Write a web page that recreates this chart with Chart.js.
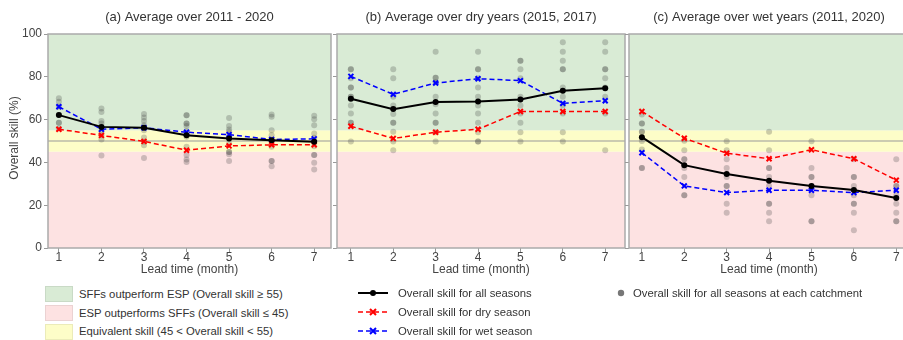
<!DOCTYPE html>
<html>
<head>
<meta charset="utf-8">
<script src="https://cdn.jsdelivr.net/npm/chart.js@4.4.1/dist/chart.umd.min.js"></script>
<style>
html, body { margin: 0; padding: 0; background: #fff; }
body { width: 903px; height: 340px; overflow: hidden; position: relative; font-family: "Liberation Sans", Arial, sans-serif; }
canvas { position: absolute; top: 0; }
#chartA { left: 0; }
#chartB { left: 329px; }
#chartC { left: 621px; }
.leg { position: absolute; font-size: 11.3px; color: #333; white-space: nowrap; line-height: 14px; }
.sw { position: absolute; left: 45px; width: 28px; height: 16px; box-sizing: border-box; border: 1px solid rgba(0,0,0,0.07); }
svg { position: absolute; }
</style>
</head>
<body>
<canvas id="chartA" width="337" height="280"></canvas>
<canvas id="chartB" width="302" height="280"></canvas>
<canvas id="chartC" width="294" height="280"></canvas>

<div class="sw" style="top:286px;background:#d9ebd5"></div>
<div class="sw" style="top:305px;background:#fde2e2"></div>
<div class="sw" style="top:324px;background:#fdfdc8"></div>
<div class="leg" style="left:79px;top:287px">SFFs outperform ESP (Overall skill ≥ 55)</div>
<div class="leg" style="left:79px;top:306px">ESP outperforms SFFs (Overall skill ≤ 45)</div>
<div class="leg" style="left:79px;top:324px">Equivalent skill (45 &lt; Overall skill &lt; 55)</div>

<svg style="left:358px;top:288px" width="30" height="10"><line x1="0" y1="5" x2="30" y2="5" stroke="#000" stroke-width="2"/><circle cx="15" cy="5" r="3" fill="#000"/></svg>
<svg style="left:358px;top:307px" width="30" height="10"><line x1="0" y1="5" x2="30" y2="5" stroke="#f00" stroke-width="1.5" stroke-dasharray="5,3"/><path d="M12 2 L18 8 M18 2 L12 8" stroke="#f00" stroke-width="2"/></svg>
<svg style="left:358px;top:326px" width="30" height="10"><line x1="0" y1="5" x2="30" y2="5" stroke="#00f" stroke-width="1.5" stroke-dasharray="5,3"/><path d="M12 2 L18 8 M18 2 L12 8" stroke="#00f" stroke-width="2"/></svg>
<div class="leg" style="left:398px;top:286px">Overall skill for all seasons</div>
<div class="leg" style="left:398px;top:305px">Overall skill for dry season</div>
<div class="leg" style="left:398px;top:324px">Overall skill for wet season</div>

<svg style="left:616px;top:288px" width="10" height="10"><circle cx="5" cy="5" r="3.2" fill="#777"/></svg>
<div class="leg" style="left:633px;top:286px">Overall skill for all seasons at each catchment</div>

<script>
// lead times and tick labels
const leadTimes = [1, 2, 3, 4, 5, 6, 7];
const yTicks = [0, 20, 40, 60, 80, 100];
const bandEdges = [0, 45, 55, 100];

// (a) 2011 - 2020
const allA = [62.1, 56.6, 56.2, 52.7, 51.2, 50.4, 49.6];
const dryA = [55.5, 52.6, 49.8, 45.7, 47.7, 48.2, 48.2];
const wetA = [66.0, 55.5, 56.2, 54.1, 53.0, 50.7, 51.0];
const catchA = [
    [70, 68.3, 66, 62.1, 58.5, 58.5, 55.8],
    [65.2, 63.6, 59.4, 58.2, 56.5, 54.3, 52.7, 50.7, 43.2],
    [62.6, 61, 59.4, 57.4, 55, 51.6, 49.6, 48, 42.1],
    [62, 62, 58.2, 58.2, 57, 54.6, 52, 47.3, 43.4, 41.3, 40.2],
    [60.8, 57, 55.4, 54.3, 52.7, 48.8, 44.9, 44.9, 43.8, 40.6],
    [62.4, 61.3, 55, 52.7, 50.4, 47.3, 40.7, 40.7, 38.2],
    [61.8, 60.2, 57.4, 53.5, 51.5, 47.6, 43.4, 43.4, 39.8, 36.7]
];

// (b) dry years
const allB = [69.7, 64.9, 68.2, 68.5, 69.4, 73.5, 74.7];
const dryB = [56.9, 51.2, 54.1, 55.5, 63.8, 63.8, 63.8];
const wetB = [80.2, 71.8, 77.1, 79.1, 78.2, 67.6, 68.8];
const catchB = [
    [83.5, 83.5, 79.3, 75, 75, 70.7, 70.7, 66.6, 62.9, 58.5, 58.5, 49.8],
    [83.5, 79.3, 70.7, 66.6, 62.6, 58.5, 58.5, 54.3, 49.8, 45.7],
    [91.7, 79.6, 79.6, 77.5, 70.7, 67.2, 62.9, 58.5, 58.5, 54.1, 49.8],
    [91.7, 83.5, 83.5, 79.3, 75, 70.7, 66.6, 62.9, 58.5, 54.1, 49.8, 49.8],
    [87.5, 87.5, 83.5, 79.3, 70.7, 66.6, 62.9, 58.5, 54.1, 49.8],
    [96.1, 91.7, 87.5, 83.5, 83.5, 75, 70.7, 66.6, 62.9, 54.1, 49.8],
    [96.1, 91.7, 83.5, 83.5, 79.3, 75, 70.7, 62.9, 45.7]
];

// (c) wet years
const allC = [51.8, 38.7, 34.6, 31.4, 29.0, 27.1, 23.4];
const dryC = [63.8, 51.3, 44.3, 41.7, 45.9, 41.7, 31.7];
const wetC = [44.5, 29.0, 25.9, 27.0, 27.0, 25.9, 27.0];
const catchC = [
    [62.4, 58.2, 58.2, 54.3, 54.3, 50, 46, 37.4, 37.4],
    [50.1, 45.7, 41.5, 41.5, 37.4, 33.2, 24.6, 24.6],
    [49.9, 45.7, 41.5, 37.4, 33.2, 29, 29, 20.7, 16.5],
    [54.3, 45.7, 37.4, 37.4, 33.2, 29, 20.7, 20.7, 16.5, 12.5],
    [49.9, 37.4, 33.2, 33.2, 29, 24.6, 12.5, 12.5],
    [41.5, 33.2, 33.2, 29, 24.6, 20.7, 20.7, 16.5, 8.3],
    [41.5, 29, 29, 24.6, 20.7, 16.5, 12.5, 12.5]
];

const bandColors = ['#fde2e2', '#fdfdc8', '#d9ebd5'];
const FONT = '"Liberation Sans", Arial, sans-serif';
Chart.defaults.font.family = FONT;
Chart.defaults.color = '#444';

const decoPlugin = {
    id: 'deco',
    beforeDraw(chart) {
        const { ctx, chartArea: a, scales: { y } } = chart;
        ctx.save();
        for (let i = 0; i < bandColors.length; i++) {
            const top = y.getPixelForValue(bandEdges[i + 1]);
            const bot = y.getPixelForValue(bandEdges[i]);
            ctx.fillStyle = bandColors[i];
            ctx.fillRect(a.left, top, a.right - a.left, bot - top);
        }
        const y50 = y.getPixelForValue(50);
        ctx.strokeStyle = '#999';
        ctx.lineWidth = 1;
        ctx.beginPath();
        ctx.moveTo(a.left, y50);
        ctx.lineTo(a.right, y50);
        ctx.stroke();
        ctx.restore();
    },
    afterDraw(chart) {
        const { ctx, chartArea: a } = chart;
        const o = chart.options.plugins.deco;
        ctx.save();
        ctx.strokeStyle = '#aaa';
        ctx.lineWidth = 1.5;
        ctx.strokeRect(a.left, a.top, a.right - a.left, a.bottom - a.top);
        ctx.fillStyle = '#333';
        ctx.textAlign = 'center';
        ctx.textBaseline = 'middle';
        ctx.font = '13px ' + FONT;
        ctx.fillText(o.title, (a.left + a.right) / 2, 17);
        ctx.font = '12px ' + FONT;
        ctx.fillStyle = '#444';
        ctx.fillText('Lead time (month)', (o.xTitleAt || (a.left + a.right) / 2), 269.5);
        if (o.yTitle) {
            ctx.translate(15, 138);
            ctx.rotate(-Math.PI / 2);
            ctx.fillText(o.yTitle, 0, 0);
        }
        ctx.restore();
    }
};

function makePanel(id, title, all, dry, wet, catchments, xMin, xMax, yLabels, xTitleAt) {
    const pts = arr => leadTimes.map((x, i) => ({ x: x, y: arr[i] }));
    const dots = catchments.flatMap((vals, i) => vals.map(v => ({ x: leadTimes[i], y: v })));
    const seasonStyle = color => ({
        borderColor: color, backgroundColor: color, borderWidth: 1.5, borderDash: [5, 3],
        pointStyle: 'crossRot', pointRadius: 3.5, pointBorderWidth: 2, pointBorderColor: color
    });
    new Chart(document.getElementById(id), {
        type: 'line',
        data: {
            datasets: [
                { data: pts(all), borderColor: '#000', backgroundColor: '#000', borderWidth: 2,
                  pointStyle: 'circle', pointRadius: 3, pointBorderWidth: 0 },
                Object.assign({ data: pts(dry) }, seasonStyle('#ff0000')),
                Object.assign({ data: pts(wet) }, seasonStyle('#0000ff')),
                { type: 'scatter', data: dots, showLine: false, pointRadius: 3, borderWidth: 0,
                  backgroundColor: 'rgba(60,60,60,0.25)' }
            ]
        },
        options: {
            responsive: false,
            animation: false,
            layout: { padding: { top: 34, right: 3, left: 0, bottom: 0 } },
            plugins: {
                legend: { display: false },
                tooltip: { enabled: false },
                deco: { title: title, yTitle: yLabels ? 'Overall skill (%)' : null, xTitleAt: xTitleAt }
            },
            scales: {
                x: {
                    type: 'linear', min: xMin, max: xMax,
                    afterBuildTicks: s => { s.ticks = leadTimes.map(v => ({ value: v })); },
                    afterFit: s => { s.height = 32; },
                    ticks: { font: { size: 12 }, padding: -2, color: '#444' },
                    grid: { drawOnChartArea: false, tickLength: 4, tickColor: '#999', color: '#999' },
                    border: { display: false }
                },
                y: {
                    min: 0, max: 100,
                    afterBuildTicks: s => { s.ticks = yTicks.map(v => ({ value: v })); },
                    afterFit: s => { s.width = yLabels ? 48 : 8; },
                    ticks: { display: yLabels, font: { size: 12 }, padding: 2, color: '#444' },
                    grid: { drawOnChartArea: false, tickLength: 4, tickColor: '#999', color: '#999' },
                    border: { display: false }
                }
            }
        },
        plugins: [decoPlugin]
    });
}

makePanel('chartA', '(a) Average over 2011 - 2020', allA, dryA, wetA, catchA, 0.744, 7.395, true);
makePanel('chartB', '(b) Average over dry years (2015, 2017)', allB, dryB, wetB, catchB, 0.673, 7.467, false);
makePanel('chartC', '(c) Average over wet years (2011, 2020)', allC, dryC, wetC, catchC, 0.696, 7.3, false);
</script>
</body>
</html>
